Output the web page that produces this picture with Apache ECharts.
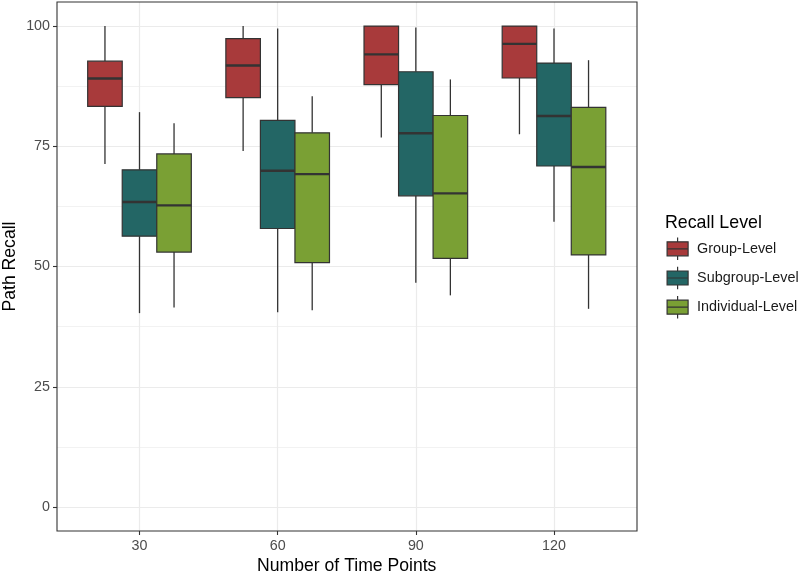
<!DOCTYPE html>
<html><head><meta charset="utf-8">
<script src="https://cdn.jsdelivr.net/npm/echarts@6/dist/echarts.min.js"></script>
<style>html,body{margin:0;padding:0;background:#fff}#c{width:800px;height:575px}</style>
</head><body><div id="c"></div>
<script>
// ---- data ----
const timeLabels = ['30', '60', '90', '120'];
const seriesNames = ['Group-Level', 'Subgroup-Level', 'Individual-Level'];
// each entry: [lower whisker, Q1, median, Q3, upper whisker]
const groupLevel = [
  [71.3, 83.3, 89.1, 92.7, 100],
  [74.0, 85.1, 91.8, 97.4, 100],
  [76.8, 87.8, 94.1, 100, 100],
  [77.5, 89.2, 96.3, 100, 100]
];
const subgroupLevel = [
  [40.3, 56.3, 63.4, 70.1, 82.1],
  [40.5, 57.9, 69.9, 80.4, 99.5],
  [46.6, 64.7, 77.7, 90.5, 99.7],
  [59.3, 70.9, 81.3, 92.3, 99.5]
];
const individualLevel = [
  [41.5, 53.0, 62.7, 73.4, 79.8],
  [40.9, 50.8, 69.2, 77.8, 85.4],
  [44.0, 51.7, 65.2, 81.4, 88.9],
  [41.2, 52.4, 70.7, 83.1, 92.9]
];
const seriesData = [groupLevel, subgroupLevel, individualLevel];
const colors = ['#A83A3B', '#236665', '#7AA034'];

const FONT = '"Liberation Sans", Arial, sans-serif';
const chart = echarts.init(document.getElementById('c'));

function makeRender(k) {
  return function (params, api) {
    const xi = api.value(0);
    const band = api.coord([1, 0])[0] - api.coord([0, 0])[0];
    const w = band * 0.25;
    const cx = api.coord([xi, 0])[0] + (k - 1) * w;
    const y = i => api.coord([xi, api.value(i)])[1];
    const yMin = y(1), yQ1 = y(2), yMed = y(3), yQ3 = y(4), yMax = y(5);
    const ls = { stroke: '#333333', lineWidth: 1.3 };
    return {
      type: 'group',
      children: [
        { type: 'line', shape: { x1: cx, y1: yMax, x2: cx, y2: yQ3 }, style: ls },
        { type: 'line', shape: { x1: cx, y1: yQ1, x2: cx, y2: yMin }, style: ls },
        { type: 'rect', shape: { x: cx - w / 2, y: yQ3, width: w, height: yQ1 - yQ3 },
          style: { fill: api.visual('color'), stroke: '#333333', lineWidth: 1.2 } },
        { type: 'line', shape: { x1: cx - w / 2, y1: yMed, x2: cx + w / 2, y2: yMed },
          style: { stroke: '#333333', lineWidth: 2.4 } }
      ]
    };
  };
}

const series = seriesNames.map((name, k) => ({
  name: name,
  type: 'custom',
  xAxisIndex: 2,
  yAxisIndex: 2,
  itemStyle: { color: colors[k] },
  encode: { x: 0, y: [1, 2, 3, 4, 5] },
  renderItem: makeRender(k),
  data: seriesData[k].map((s, i) => [i].concat(s)),
  z: 5
}));

const option = {
  animation: false,
  backgroundColor: '#ffffff',
  title: {
    text: 'Recall Level', left: 665, top: 214, padding: 0,
    textStyle: { fontFamily: FONT, fontSize: 17.8, fontWeight: 'normal', color: '#000000' }
  },
  legend: {
    orient: 'vertical', left: 666.5, top: 237, padding: 0,
    itemWidth: 21, itemHeight: 22.4, itemGap: 5.6,
    selectedMode: false,
    icon: 'path://M3.5,7H24.5V21H3.5Z M3.5,14H24.5 M14,2.8V7 M14,21V25.2',
    itemStyle: { borderColor: '#333333', borderWidth: 1.2 },
    textStyle: { fontFamily: FONT, fontSize: 14.4, color: '#1a1a1a', padding: [0, 0, 0, 4] },
    data: seriesNames
  },
  grid: [
    { left: 57, top: 2, width: 580, height: 529, show: true, borderColor: '#333333', borderWidth: 1.1, backgroundColor: 'transparent', z: 3, outerBoundsMode: 'none', containLabel: false },
    { left: 57, top: 26, width: 580, height: 481, outerBoundsMode: 'none', containLabel: false },
    { left: 139.5, top: 2, width: 414.5, height: 529, outerBoundsMode: 'none', containLabel: false }
  ],
  xAxis: [
    { gridIndex: 0, type: 'value', show: false, min: 0, max: 1 },
    { gridIndex: 1, type: 'value', show: false, min: 0, max: 1 },
    {
      gridIndex: 2, type: 'category', data: timeLabels, boundaryGap: false, position: 'bottom',
      axisLine: { show: false, onZero: false },
      axisTick: { show: true, length: 4, lineStyle: { color: '#333333', width: 1.1 } },
      axisLabel: { fontFamily: FONT, fontSize: 14.3, color: '#4D4D4D', margin: 8.5 },
      splitLine: { show: true, lineStyle: { color: '#EBEBEB', width: 1.2 } },
      name: 'Number of Time Points', nameLocation: 'middle', nameGap: 26, nameMoveOverlap: false,
      nameTextStyle: { fontFamily: FONT, fontSize: 17.6, color: '#000000' }
    }
  ],
  yAxis: [
    { gridIndex: 0, type: 'value', show: false, min: 0, max: 1 },
    {
      gridIndex: 1, type: 'value', min: 0, max: 100, interval: 25,
      axisLine: { show: false, onZero: false },
      axisTick: { show: true, length: 4, lineStyle: { color: '#333333', width: 1.1 } },
      axisLabel: { fontFamily: FONT, fontSize: 14.3, color: '#4D4D4D', margin: 7 },
      splitLine: { show: true, lineStyle: { color: '#EBEBEB', width: 1.2 } },
      minorTick: { show: false, splitNumber: 2 },
      minorSplitLine: { show: true, lineStyle: { color: '#F0F0F0', width: 0.9 } },
      name: 'Path Recall', nameLocation: 'middle', nameGap: 38, nameMoveOverlap: false,
      nameTextStyle: { fontFamily: FONT, fontSize: 17.6, color: '#000000' }
    },
    { gridIndex: 2, type: 'value', show: false, min: -5, max: 105 }
  ],
  series: series
};
chart.setOption(option);
</script>
</body></html>
